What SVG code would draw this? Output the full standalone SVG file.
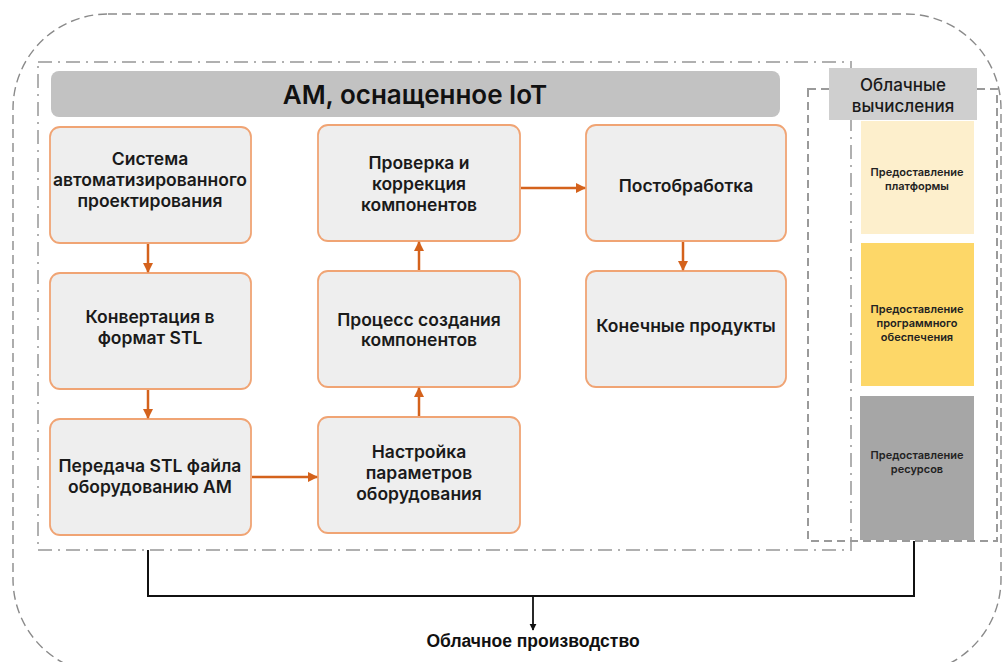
<svg xmlns="http://www.w3.org/2000/svg" width="1003" height="662" viewBox="0 0 1003 662">
<defs>
<marker id="ao" viewBox="0 0 10 10" refX="9" refY="5" markerWidth="4" markerHeight="4" orient="auto" markerUnits="strokeWidth"><path d="M0,0 L10,5 L0,10 z" fill="#d4621c"/></marker>
<marker id="ab" viewBox="0 0 10 10" refX="9" refY="5" markerWidth="4" markerHeight="5" orient="auto" markerUnits="strokeWidth"><path d="M0,0 L10,5 L0,10 z" fill="#111"/></marker>
<style>
.box{fill:#eeeeee;stroke:#f0a474;stroke-width:1.8}
.t{font-family:Inter,"Liberation Sans",sans-serif;font-weight:600;font-size:17.5px;fill:#1a1a1a;text-anchor:middle}
.s{font-family:Inter,"Liberation Sans",sans-serif;font-weight:600;font-size:11px;fill:#222;text-anchor:middle}
.ar{stroke:#d4621c;stroke-width:2.5;fill:none;marker-end:url(#ao)}
</style>
</defs>
<rect width="1003" height="662" fill="#fff"/>
<g id="frames">
<rect x="13" y="14" width="988" height="660" rx="95" fill="none" stroke="#8a8a8a" stroke-width="1.4" stroke-dasharray="9 5"/>
<rect x="38" y="62" width="813" height="488" fill="none" stroke="#b0b0b0" stroke-width="2" stroke-dasharray="14 6 2 6"/>
<rect x="808" y="89" width="189" height="452" fill="none" stroke="#9a9a9a" stroke-width="2" stroke-dasharray="8 5"/>
</g>
<g id="title">
<rect x="51" y="71" width="729" height="46" rx="8" fill="#c2c2c2"/>
<text x="415" y="104" font-family="Inter,'Liberation Sans',sans-serif" font-weight="600" font-size="26" fill="#111" text-anchor="middle">АМ, оснащенное IoT</text>
</g>
<g id="cloud-header">
<rect x="829" y="68" width="148" height="52" fill="#cfcfcf"/>
<text x="903" y="91" class="t" style="font-size:17px;font-weight:500">Облачные</text>
<text x="903" y="112" class="t" style="font-size:17px;font-weight:500">вычисления</text>
</g>
<g id="platform">
<rect x="861" y="121" width="113" height="113" fill="#fdefcc"/>
<text x="917" y="176" class="s">Предоставление</text>
<text x="917" y="190" class="s">платформы</text>
</g>
<g id="software">
<rect x="861" y="243" width="113" height="143" fill="#fdd768"/>
<text x="917" y="313" class="s">Предоставление</text>
<text x="917" y="327" class="s">программного</text>
<text x="917" y="341" class="s">обеспечения</text>
</g>
<g id="resources">
<rect x="860" y="396" width="114" height="144" fill="#a6a6a6"/>
<text x="917" y="459" class="s">Предоставление</text>
<text x="917" y="473" class="s">ресурсов</text>
</g>
<g id="n1">
<rect x="50" y="127" width="201" height="116" rx="10" class="box"/>
<text x="150" y="165" class="t">Система</text>
<text x="150" y="186" class="t">автоматизированного</text>
<text x="150" y="207" class="t">проектирования</text>
</g>
<g id="n2">
<rect x="50" y="273" width="201" height="116" rx="10" class="box"/>
<text x="150" y="323" class="t">Конвертация в</text>
<text x="150" y="344" class="t">формат STL</text>
</g>
<g id="n3">
<rect x="50" y="419" width="201" height="116" rx="10" class="box"/>
<text x="150" y="472" class="t">Передача STL файла</text>
<text x="150" y="493" class="t">оборудованию АМ</text>
</g>
<g id="n4">
<rect x="318" y="417" width="202" height="116" rx="10" class="box"/>
<text x="419" y="458" class="t">Настройка</text>
<text x="419" y="479" class="t">параметров</text>
<text x="419" y="500" class="t">оборудования</text>
</g>
<g id="n5">
<rect x="318" y="271" width="202" height="116" rx="10" class="box"/>
<text x="419" y="326" class="t">Процесс создания</text>
<text x="419" y="346" class="t">компонентов</text>
</g>
<g id="n6">
<rect x="318" y="125" width="202" height="116" rx="10" class="box"/>
<text x="419" y="169" class="t">Проверка и</text>
<text x="419" y="190" class="t">коррекция</text>
<text x="419" y="211" class="t">компонентов</text>
</g>
<g id="n7">
<rect x="586" y="125" width="200" height="116" rx="10" class="box"/>
<text x="686" y="192" class="t">Постобработка</text>
</g>
<g id="n8">
<rect x="586" y="271" width="200" height="116" rx="10" class="box"/>
<text x="686" y="332" class="t">Конечные продукты</text>
</g>
<g id="connectors">
<line x1="148" y1="244" x2="148" y2="272" class="ar"/>
<line x1="148" y1="390" x2="148" y2="418" class="ar"/>
<line x1="252" y1="477" x2="317" y2="477" class="ar"/>
<line x1="419" y1="416" x2="419" y2="388" class="ar"/>
<line x1="419" y1="270" x2="419" y2="242" class="ar"/>
<line x1="521" y1="188" x2="585" y2="188" class="ar"/>
<line x1="683" y1="242" x2="683" y2="270" class="ar"/>
<polyline points="148,550 148,596 914,596 914,541" fill="none" stroke="#111" stroke-width="2"/>
<line x1="533" y1="596" x2="533" y2="630" stroke="#111" stroke-width="1.8" marker-end="url(#ab)"/>
</g>
<text x="533" y="647" font-family="'Liberation Sans',sans-serif" font-weight="bold" font-size="17.5" fill="#111" text-anchor="middle">Облачное производство</text>
</svg>
